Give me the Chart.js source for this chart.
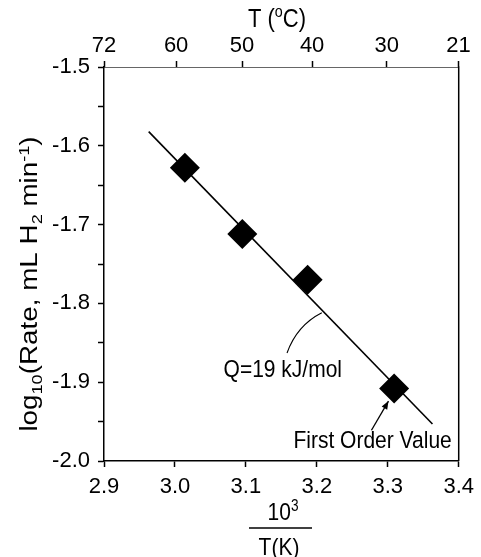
<!DOCTYPE html>
<html><head><meta charset="utf-8">
<script src="https://cdn.jsdelivr.net/npm/chart.js@4.4.0/dist/chart.umd.min.js"></script>
<style>html,body{margin:0;padding:0;background:#fff}#wrap{width:481px;height:557px;position:relative}</style>
</head><body><div id="wrap"><canvas id="c"></canvas></div>
<script>
// ---- data ----
const invTempX = [3.014, 3.095, 3.187, 3.309];
const logRate = [-1.628, -1.712, -1.770, -1.908];
const fitX = [2.963, 3.363];
const fitY = [-1.582, -1.953];
const xTickValues = [2.9, 3.0, 3.1, 3.2, 3.3, 3.4];
const xTickLabels = ['2.9', '3.0', '3.1', '3.2', '3.3', '3.4'];
const yTickValues = [-2.0, -1.95, -1.9, -1.85, -1.8, -1.75, -1.7, -1.65, -1.6, -1.55, -1.5];
const yTickLabels = ['-2.0', '', '-1.9', '', '-1.8', '', '-1.7', '', '-1.6', '', '-1.5'];
const topTempC = [72, 60, 50, 40, 30, 21];
const topTempLabels = ['72', '60', '50', '40', '30', '21'];
const annotationQ = 'Q=19 kJ/mol';
const annotationFirst = 'First Order Value';

const FONT = "'Liberation Sans', Arial, Helvetica, sans-serif";
const topTickValues = topTempC.map(t => Math.min(3.4, Math.max(2.9, 1000 / (t + 273.15))));

function drawRich(c, parts, size, cx, cy, opt) {
  opt = opt || {};
  const small = size * 0.65;
  let w = 0;
  parts.forEach(([t, m]) => { c.font = (m ? small : size) + 'px ' + FONT; w += c.measureText(t).width; });
  c.save();
  c.translate(cx, cy);
  if (opt.rot) c.rotate(opt.rot);
  c.scale(opt.sx || 1, opt.sy || 1);
  c.fillStyle = '#000';
  c.textBaseline = 'alphabetic';
  c.textAlign = 'left';
  let x = opt.align === 'left' ? 0 : -w / 2;
  const base = size * 0.36;
  parts.forEach(([t, m]) => {
    c.font = (m ? small : size) + 'px ' + FONT;
    const dy = m === -1 ? size * 0.2 : (m === 1 ? -size * 0.38 : 0);
    c.fillText(t, x, base + dy);
    x += c.measureText(t).width;
  });
  c.restore();
}

const decor = {
  id: 'decor',
  afterDraw(chart) {
    const c = chart.ctx, a = chart.chartArea;
    const xs = chart.scales.x, ys = chart.scales.y;
    const P = (x, y) => [xs.getPixelForValue(x), ys.getPixelForValue(y)];
    c.save();
    // right frame line
    c.strokeStyle = '#000'; c.lineWidth = 1.5;
    c.beginPath(); c.moveTo(a.right, a.top - 0.5); c.lineTo(a.right, a.bottom); c.stroke();

    // Q annotation curve
    const s = P(3.158, -1.863), k = P(3.172, -1.828), e = P(3.207, -1.812);
    c.lineWidth = 1.1;
    c.beginPath(); c.moveTo(s[0], s[1]); c.quadraticCurveTo(k[0], k[1], e[0], e[1]); c.stroke();
    const q = P(3.152, -1.882);
    drawRich(c, [[annotationQ, 0]], 21, q[0], q[1], { sy: 1.18 });

    // First order value arrow
    const f = P(3.167, -1.972);
    drawRich(c, [[annotationFirst, 0]], 21, f[0], f[1], { sy: 1.18, align: 'left' });
    const a0 = P(3.277, -1.961), a1 = P(3.301, -1.924);
    c.lineWidth = 1.3;
    c.beginPath(); c.moveTo(a0[0], a0[1]); c.lineTo(a1[0], a1[1]); c.stroke();
    const ang = Math.atan2(a1[1] - a0[1], a1[0] - a0[0]);
    const L = 8, W = 3.2;
    c.fillStyle = '#000';
    c.beginPath();
    c.moveTo(a1[0], a1[1]);
    c.lineTo(a1[0] - L * Math.cos(ang) + W * Math.sin(ang), a1[1] - L * Math.sin(ang) - W * Math.cos(ang));
    c.lineTo(a1[0] - L * Math.cos(ang) - W * Math.sin(ang), a1[1] - L * Math.sin(ang) + W * Math.cos(ang));
    c.closePath(); c.fill();

    // top title
    drawRich(c, [['T (', 0], ['o', 1], ['C)', 0]], 22, 277, 17.5, { sy: 1.18 });
    // bottom title fraction
    drawRich(c, [['10', 0], ['3', 1]], 21, 283, 511, { sy: 1.18 });
    c.lineWidth = 1.5;
    c.beginPath(); c.moveTo(249, 528); c.lineTo(312, 528); c.stroke();
    drawRich(c, [['T(K)', 0]], 21, 279, 546, { sy: 1.18 });
    // y title
    drawRich(c, [['log', 0], ['10', -1], ['(Rate, mL H', 0], ['2', -1], [' min', 0], ['-1', 1], [')', 0]],
      23, 29, 284, { rot: -Math.PI / 2, sx: 1.21 });
    c.restore();
  }
};

const tickFont = { family: FONT, size: 22 };
new Chart(document.getElementById('c'), {
  type: 'scatter',
  data: {
    datasets: [
      {
        type: 'scatter',
        data: invTempX.map((x, i) => ({ x, y: logRate[i] })),
        pointStyle: 'rectRot', pointRadius: 15, pointHoverRadius: 15,
        backgroundColor: '#000', borderColor: '#000', borderWidth: 0,
        xAxisID: 'x', yAxisID: 'y', order: 0
      },
      {
        type: 'line',
        data: fitX.map((x, i) => ({ x, y: fitY[i] })),
        borderColor: '#000', borderWidth: 1.6, pointRadius: 0, fill: false, showLine: true,
        xAxisID: 'x', yAxisID: 'y', order: 1
      }
    ]
  },
  options: {
    responsive: true, maintainAspectRatio: false, animation: false, events: [],
    layout: { padding: { left: 0, right: 14, top: 0, bottom: 0 } },
    plugins: { legend: { display: false }, tooltip: { enabled: false }, title: { display: false } },
    scales: {
      x: {
        type: 'linear', position: 'bottom', min: 2.9, max: 3.4,
        afterBuildTicks: s => { s.ticks = xTickValues.map(v => ({ value: v })); },
        afterFit: s => { s.height = 96; },
        ticks: { autoSkip: false, maxRotation: 0, padding: 7, color: '#000', font: tickFont, callback: (v, i) => xTickLabels[i] },
        grid: { display: true, drawOnChartArea: false, drawTicks: true, tickLength: 6, tickColor: '#000', tickWidth: 1.5 },
        border: { display: true, color: '#000', width: 1.5 }
      },
      x2: {
        type: 'linear', position: 'top', min: 2.9, max: 3.4,
        afterBuildTicks: s => { s.ticks = topTickValues.map(v => ({ value: v })); },
        afterFit: s => { s.height = 67; },
        ticks: { autoSkip: false, maxRotation: 0, padding: 2, color: '#000', font: tickFont, callback: (v, i) => topTempLabels[i] },
        grid: { display: true, drawOnChartArea: false, drawTicks: true, tickLength: 6, tickColor: '#000', tickWidth: 1.5 },
        border: { display: true, color: '#666', width: 1 }
      },
      y: {
        type: 'linear', position: 'left', min: -2.0, max: -1.5,
        afterBuildTicks: s => { s.ticks = yTickValues.map(v => ({ value: v })); },
        afterFit: s => { s.width = 104; },
        ticks: { autoSkip: false, padding: 8, color: '#000', font: tickFont, callback: (v, i) => yTickLabels[i] },
        grid: { display: true, drawOnChartArea: false, drawTicks: true, tickLength: 6, tickColor: '#000', tickWidth: 1.5 },
        border: { display: true, color: '#000', width: 1.5 }
      }
    }
  },
  plugins: [decor]
});
</script></body></html>
